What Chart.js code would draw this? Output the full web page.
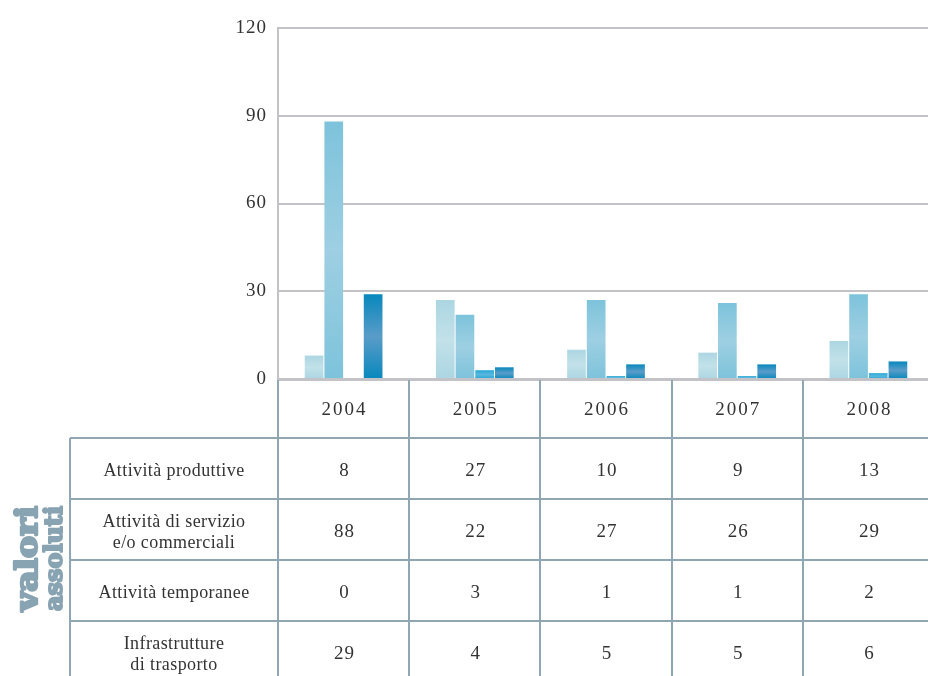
<!DOCTYPE html>
<html lang="it">
<head>
  <meta charset="UTF-8">
  <title>Valori assoluti 2004-2008</title>
  <script src="https://cdn.jsdelivr.net/npm/chart.js"></script>
  <style>
    html, body { margin: 0; padding: 0; background: #fff; overflow: hidden; }
    #grafico { display: block; }
  </style>
</head>
<body>
  <canvas id="grafico" width="934" height="676"></canvas>

  <script>
    const anni = ["2004", "2005", "2006", "2007", "2008"];
    const produttive = [8, 27, 10, 9, 13];
    const servizio = [88, 22, 27, 26, 29];
    const temporanee = [0, 3, 1, 1, 2];
    const infrastrutture = [29, 4, 5, 5, 6];
    const tickY = [0, 30, 60, 90, 120];

    const righe = [
      { etichetta: ["Attività produttive"], valori: produttive },
      { etichetta: ["Attività di servizio", "e/o commerciali"], valori: servizio },
      { etichetta: ["Attività temporanee"], valori: temporanee },
      { etichetta: ["Infrastrutture", "di trasporto"], valori: infrastrutture }
    ];

    const LINEA_TAB = "#8fa6b3";
    const GRIGIO = "#c3c3c7";
    const TESTO = "#333";
    const SERIF = "'Liberation Serif', 'DejaVu Serif', serif";

    // colori bordo/centro per la sfumatura verticale di ogni barra
    const colori = [
      ["#acd6e2", "#c2e1e9"],
      ["#7dc3db", "#9ecfe2"],
      ["#24a6d5", "#5bb8de"],
      ["#0788bd", "#5a9cc8"]
    ];

    function sfumatura(i) {
      return (ctx) => {
        const chart = ctx.chart;
        const [bordo, centro] = colori[i];
        if (!chart.chartArea || ctx.raw == null) return bordo;
        const y = chart.scales.y;
        const top = y.getPixelForValue(ctx.raw);
        const base = y.getPixelForValue(0);
        if (base - top < 1) return bordo;
        const g = chart.ctx.createLinearGradient(0, top, 0, base);
        g.addColorStop(0, bordo);
        g.addColorStop(0.5, centro);
        g.addColorStop(1, bordo);
        return g;
      };
    }

    // cifre un po' spaziate, come nel carattere originale
    const spaziatura = {
      id: "spaziatura",
      beforeDraw(chart) { chart.ctx.letterSpacing = "1px"; }
    };

    // tabella sotto il grafico, allineata alle categorie dell'asse x
    const tabella = {
      id: "tabella",
      afterDraw(chart) {
        const c = chart.ctx;
        const x = chart.scales.x;
        const area = chart.chartArea;
        const passo = x.getPixelForValue(1) - x.getPixelForValue(0);
        const bordi = [];
        for (let i = 0; i <= anni.length; i++) bordi.push(x.getPixelForValue(0) - passo / 2 + i * passo);

        const yAsse = area.bottom;
        const yRighe = [438, 499, 560, 621, 682];
        const xSinistra = 70;

        c.save();
        c.strokeStyle = LINEA_TAB;
        c.lineWidth = 2;
        // verticali delle colonne anni
        bordi.forEach(bx => {
          c.beginPath();
          c.moveTo(Math.round(bx), yAsse + 1);
          c.lineTo(Math.round(bx), 676);
          c.stroke();
        });
        // bordo sinistro della colonna etichette
        c.beginPath();
        c.moveTo(xSinistra, yRighe[0]);
        c.lineTo(xSinistra, 676);
        c.stroke();
        // orizzontali
        yRighe.forEach(yy => {
          c.beginPath();
          c.moveTo(xSinistra, yy);
          c.lineTo(chart.width, yy);
          c.stroke();
        });

        c.fillStyle = TESTO;
        c.textAlign = "center";
        c.textBaseline = "middle";

        // anni
        c.font = "19px " + SERIF;
        c.letterSpacing = "2px";
        anni.forEach((a, i) => c.fillText(a, x.getPixelForValue(i) + 1, (yAsse + yRighe[0]) / 2 + 2));

        righe.forEach((r, ri) => {
          const cy = (yRighe[ri] + yRighe[ri + 1]) / 2 + 3;
          c.font = "18px " + SERIF;
          c.letterSpacing = "0.4px";
          const xc = (xSinistra + bordi[0]) / 2;
          if (r.etichetta.length === 1) {
            c.fillText(r.etichetta[0], xc, cy);
          } else {
            c.fillText(r.etichetta[0], xc, cy - 10);
            c.fillText(r.etichetta[1], xc, cy + 11);
          }
          c.font = "19px " + SERIF;
          c.letterSpacing = "1px";
          r.valori.forEach((v, i) => c.fillText(String(v), x.getPixelForValue(i) + 1, cy));
        });

        // scritta verticale "valori assoluti", resa più pesante con un contorno
        c.fillStyle = "#88a3b2";
        c.strokeStyle = "#88a3b2";
        c.lineJoin = "round";
        c.textAlign = "left";
        c.textBaseline = "alphabetic";
        c.letterSpacing = "0px";
        const parole = [
          { testo: "valori", font: "bold 30px 'DejaVu Serif', serif", base: 37, tratto: 2.4 },
          { testo: "assoluti", font: "bold 24px 'DejaVu Serif', serif", base: 62, tratto: 2 }
        ];
        const yBasso = 611, lunghezza = 105;
        parole.forEach(p => {
          c.save();
          c.font = p.font;
          const w = c.measureText(p.testo).width;
          c.translate(p.base, yBasso);
          c.rotate(-Math.PI / 2);
          c.scale(lunghezza / w, 1);
          c.lineWidth = p.tratto;
          c.strokeText(p.testo, 0, 0);
          c.fillText(p.testo, 0, 0);
          c.restore();
        });
        c.restore();
      }
    };

    const ctx = document.getElementById("grafico").getContext("2d");
    new Chart(ctx, {
      type: "bar",
      data: {
        labels: anni,
        datasets: [
          { label: "Attività produttive", data: produttive, backgroundColor: sfumatura(0) },
          { label: "Attività di servizio e/o commerciali", data: servizio, backgroundColor: sfumatura(1) },
          { label: "Attività temporanee", data: temporanee, backgroundColor: sfumatura(2) },
          { label: "Infrastrutture di trasporto", data: infrastrutture, backgroundColor: sfumatura(3) }
        ]
      },
      options: {
        responsive: false,
        animation: false,
        layout: { padding: { top: 28, right: 0, left: 0, bottom: 0 } },
        datasets: { bar: { categoryPercentage: 0.6, barPercentage: 0.95, borderWidth: 0 } },
        plugins: { legend: { display: false }, tooltip: { enabled: false } },
        scales: {
          x: {
            ticks: { display: false },
            grid: { display: false },
            border: { color: GRIGIO, width: 3 },
            afterFit(scale) { scale.height = 676 - 379; }
          },
          y: {
            min: 0,
            max: 120,
            afterBuildTicks(scale) { scale.ticks = tickY.map(v => ({ value: v })); },
            ticks: {
              padding: 11,
              color: TESTO,
              font: { family: "Liberation Serif", size: 19 }
            },
            grid: { color: GRIGIO, lineWidth: 2, drawTicks: false },
            border: { color: GRIGIO, width: 2 },
            afterFit(scale) { scale.width = 278; }
          }
        }
      },
      plugins: [spaziatura, tabella]
    });
  </script>
</body>
</html>
